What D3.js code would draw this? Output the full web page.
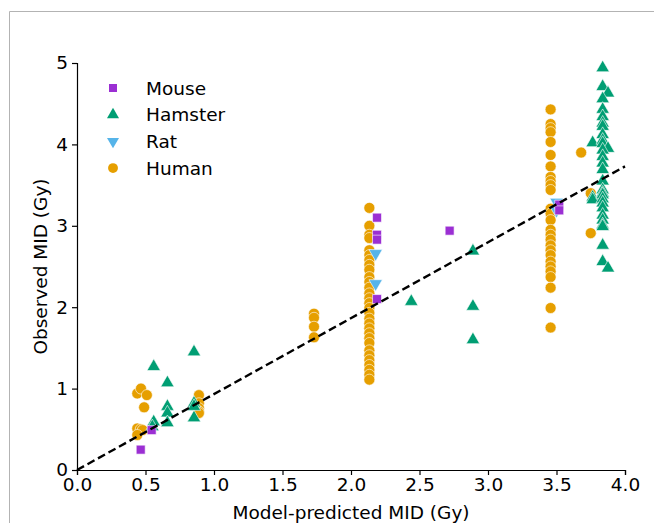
<!DOCTYPE html>
<html>
<head>
<meta charset="utf-8">
<script src="https://cdn.jsdelivr.net/npm/d3@7"></script>
<style>
    body { margin: 0; background: #fff; }
    svg { display: block; font-family: "DejaVu Sans", sans-serif; }
</style>
</head>
<body>
<svg id="chart" width="654" height="523"></svg>
<script>
// observed vs model-predicted MID
const mouse = [
    [0.465, 0.25], [0.545, 0.49], [2.19, 3.10], [2.19, 2.89], [2.19, 2.83],
    [2.19, 2.10], [2.72, 2.94], [3.52, 3.26], [3.52, 3.19]
];
const hamster = [
    [0.56, 1.27], [0.56, 0.59], [0.55, 0.53], [0.66, 1.07], [0.66, 0.78],
    [0.66, 0.70], [0.66, 0.58], [0.854, 1.45], [0.854, 0.82], [0.854, 0.78],
    [0.854, 0.64], [2.44, 2.07], [2.89, 2.69], [2.89, 2.01], [2.89, 1.60],
    [3.764, 4.02], [3.764, 3.35], [3.764, 3.32],
    [3.837, 4.94], [3.837, 4.71], [3.876, 4.63], [3.837, 4.56], [3.837, 4.43],
    [3.837, 4.34], [3.837, 4.26], [3.837, 4.22], [3.837, 4.12], [3.837, 4.05],
    [3.837, 4.01], [3.876, 3.95], [3.837, 3.93], [3.837, 3.85], [3.837, 3.77],
    [3.837, 3.69], [3.837, 3.55], [3.837, 3.44], [3.837, 3.40], [3.837, 3.38],
    [3.837, 3.33], [3.837, 3.28], [3.837, 3.22], [3.837, 3.13], [3.837, 3.07],
    [3.837, 3.01], [3.837, 2.99], [3.837, 2.76], [3.837, 2.56], [3.876, 2.48]
];
const rat = [
    [2.18, 2.66], [2.18, 2.29], [3.50, 3.29], [3.50, 3.19]
];
const human = [
    [0.44, 0.94], [0.467, 1.00], [0.51, 0.92], [0.49, 0.77], [0.44, 0.51],
    [0.465, 0.50], [0.48, 0.49], [0.44, 0.43], [0.89, 0.92], [0.89, 0.82],
    [0.89, 0.76], [0.89, 0.72], [0.89, 0.70],
    [1.73, 1.92], [1.73, 1.87], [1.73, 1.76], [1.73, 1.63],
    [2.134, 3.22], [2.134, 3.00], [2.134, 2.89], [2.134, 2.85], [2.134, 2.70],
    [2.134, 2.64], [2.134, 2.58], [2.134, 2.52], [2.134, 2.46], [2.134, 2.37],
    [2.134, 2.31], [2.134, 2.24], [2.134, 2.17], [2.134, 2.11], [2.134, 2.05],
    [2.134, 1.99], [2.134, 1.93], [2.134, 1.86], [2.134, 1.80], [2.134, 1.74],
    [2.134, 1.68], [2.134, 1.62], [2.134, 1.56], [2.134, 1.47], [2.134, 1.41],
    [2.134, 1.35], [2.134, 1.29], [2.134, 1.23], [2.134, 1.17], [2.134, 1.11],
    [3.457, 4.43], [3.457, 4.25], [3.457, 4.20], [3.457, 4.15], [3.457, 4.03],
    [3.457, 3.87], [3.457, 3.73], [3.457, 3.60], [3.457, 3.55], [3.457, 3.50],
    [3.457, 3.44], [3.457, 3.21], [3.457, 3.15], [3.457, 3.07], [3.457, 2.95],
    [3.457, 2.89], [3.457, 2.83], [3.457, 2.76], [3.457, 2.70], [3.457, 2.64],
    [3.457, 2.56], [3.457, 2.50], [3.457, 2.44], [3.457, 2.37], [3.457, 2.24],
    [3.457, 1.99], [3.457, 1.75],
    [3.68, 3.90], [3.75, 3.40], [3.75, 2.91]
];
const fitLine = [[0, 0], [4, 3.73]];
const xTicks = [0, 0.5, 1, 1.5, 2, 2.5, 3, 3.5, 4];
const yTicks = [0, 1, 2, 3, 4, 5];

const series = [
    { name: 'Mouse', data: mouse, color: '#9b2fd3', symbol: d3.symbolSquare, size: 80, rotate: 0 },
    { name: 'Hamster', data: hamster, color: '#009e73', symbol: d3.symbolTriangle, size: 78, rotate: 0 },
    { name: 'Rat', data: rat, color: '#56b4e9', symbol: d3.symbolTriangle, size: 78, rotate: 180 },
    { name: 'Human', data: human, color: '#e69f00', symbol: d3.symbolCircle, size: 95, rotate: 0 }
];

const fontSize = 18.5;

const svg = d3.select('#chart');
const margin = { left: 77, right: 29, top: 63, bottom: 53 };
const width = 654 - margin.left - margin.right;
const height = 523 - margin.top - margin.bottom;

// grey frame of the figure (only top and left are visible)
svg.append('path')
    .attr('d', 'M9.5,523 V11.5 H654')
    .attr('fill', 'none')
    .attr('stroke', '#b3b3b3')
    .attr('stroke-width', 1);

const g = svg.append('g').attr('transform', `translate(${margin.left},${margin.top})`);

const x = d3.scaleLinear().domain([0, 4]).range([0, width]);
const y = d3.scaleLinear().domain([0, 5]).range([height, 0]);

const xAxis = g.append('g')
    .attr('transform', `translate(0,${height})`)
    .call(d3.axisBottom(x).tickValues(xTicks).tickFormat(d3.format('.1f')).tickSizeOuter(0).tickSize(5).tickPadding(3));
const yAxis = g.append('g')
    .call(d3.axisLeft(y).tickValues(yTicks).tickFormat(d3.format('d')).tickSizeOuter(0).tickSize(5).tickPadding(4));

[xAxis, yAxis].forEach(a => {
    a.selectAll('text').attr('font-size', fontSize).attr('fill', '#000').attr('font-family', '"DejaVu Sans", sans-serif');
    a.selectAll('line').attr('stroke', '#000').attr('stroke-width', 1.2);
    a.select('.domain').attr('stroke', '#000').attr('stroke-width', 1.2);
});

// points, drawn back to front
series.slice().reverse().forEach(s => {
    const sym = d3.symbol().type(s.symbol).size(s.size);
    g.append('g')
        .selectAll('path')
        .data(s.data)
        .enter().append('path')
        .attr('d', sym)
        .attr('transform', d => `translate(${x(d[0])},${y(d[1])}) rotate(${s.rotate})`)
        .attr('fill', s.color)
        .attr('stroke', '#fff')
        .attr('stroke-width', 0.6);
});

// dashed reference line
g.append('path')
    .datum(fitLine)
    .attr('d', d3.line().x(d => x(d[0])).y(d => y(d[1])))
    .attr('fill', 'none')
    .attr('stroke', '#000')
    .attr('stroke-width', 2.4)
    .attr('stroke-dasharray', '8,4');

// legend
const legend = g.append('g').attr('transform', 'translate(36,25)');
series.forEach((s, i) => {
    const row = legend.append('g').attr('transform', `translate(0,${i * 26.7})`);
    row.append('path')
        .attr('d', d3.symbol().type(s.symbol).size(s.size * 0.8))
        .attr('transform', `rotate(${s.rotate})`)
        .attr('fill', s.color);
    row.append('text')
        .attr('x', 33)
        .attr('y', 6.5)
        .attr('font-size', fontSize)
        .text(s.name);
});

// axis titles
svg.append('text')
    .attr('x', margin.left + width / 2)
    .attr('y', 519)
    .attr('text-anchor', 'middle')
    .attr('font-size', fontSize)
    .text('Model-predicted MID (Gy)');

svg.append('text')
    .attr('transform', `translate(47,${margin.top + height / 2}) rotate(-90)`)
    .attr('text-anchor', 'middle')
    .attr('font-size', fontSize)
    .text('Observed MID (Gy)');
</script>
</body>
</html>
